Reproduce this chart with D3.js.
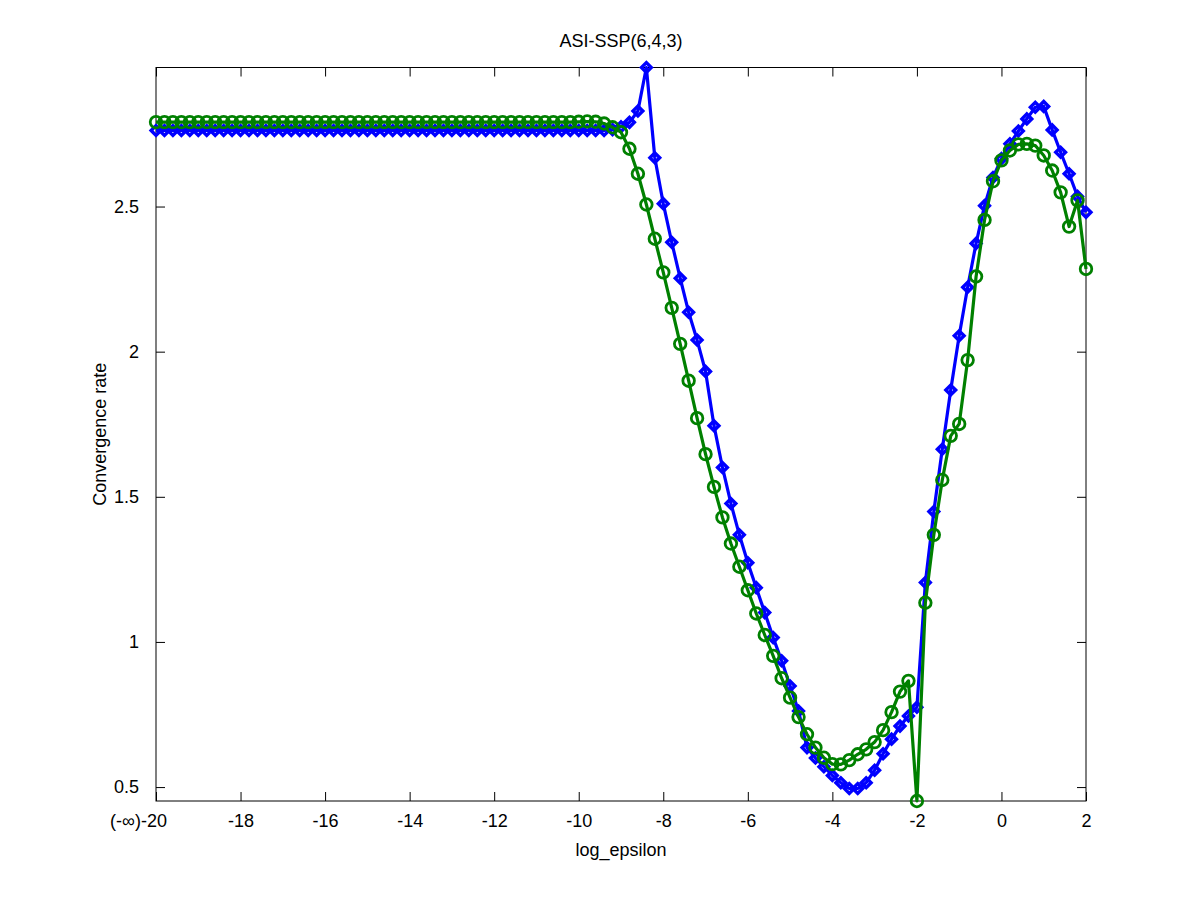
<!DOCTYPE html>
<html>
<head>
<meta charset="utf-8">
<script src="https://cdn.jsdelivr.net/npm/d3@7"></script>
<style>
  body { margin: 0; background: #fff; }
  svg text { font-family: "Liberation Sans", Arial, Helvetica, sans-serif; }
</style>
</head>
<body>
<svg id="chart" width="1200" height="900"></svg>
<script>
// log_epsilon samples (-20 stands for -inf)
const logEps = [
  -20, -19.8, -19.6, -19.4, -19.2, -19, -18.8, -18.6, -18.4, -18.2,
  -18, -17.8, -17.6, -17.4, -17.2, -17, -16.8, -16.6, -16.4, -16.2,
  -16, -15.8, -15.6, -15.4, -15.2, -15, -14.8, -14.6, -14.4, -14.2,
  -14, -13.8, -13.6, -13.4, -13.2, -13, -12.8, -12.6, -12.4, -12.2,
  -12, -11.8, -11.6, -11.4, -11.2, -11, -10.8, -10.6, -10.4, -10.2,
  -10, -9.8, -9.6, -9.4, -9.2, -9, -8.8, -8.6, -8.4, -8.2,
  -8, -7.8, -7.6, -7.4, -7.2, -7, -6.8, -6.6, -6.4, -6.2,
  -6, -5.8, -5.6, -5.4, -5.2, -5, -4.8, -4.6, -4.4, -4.2,
  -4, -3.8, -3.6, -3.4, -3.2, -3, -2.8, -2.6, -2.4, -2.2,
  -2, -1.8, -1.6, -1.4, -1.2, -1, -0.8, -0.6, -0.4, -0.2,
  0, 0.2, 0.4, 0.6, 0.8, 1, 1.2, 1.4, 1.6, 1.8,
  2
]

// blue diamonds
const rateBlue = [
  2.762, 2.762, 2.762, 2.762, 2.762, 2.762, 2.762, 2.762, 2.762, 2.762,
  2.762, 2.762, 2.762, 2.762, 2.762, 2.762, 2.762, 2.762, 2.762, 2.762,
  2.762, 2.762, 2.762, 2.762, 2.762, 2.762, 2.762, 2.762, 2.762, 2.762,
  2.762, 2.762, 2.762, 2.762, 2.762, 2.762, 2.762, 2.762, 2.762, 2.762,
  2.762, 2.762, 2.762, 2.762, 2.762, 2.762, 2.762, 2.762, 2.762, 2.762,
  2.762, 2.762, 2.762, 2.762, 2.765, 2.775, 2.790, 2.829, 2.979, 2.668,
  2.510, 2.377, 2.253, 2.136, 2.040, 1.932, 1.745, 1.601, 1.477, 1.369,
  1.273, 1.187, 1.101, 1.015, 0.935, 0.848, 0.762, 0.636, 0.600, 0.570,
  0.540, 0.515, 0.495, 0.495, 0.515, 0.558, 0.615, 0.665, 0.710, 0.745,
  0.775, 1.205, 1.449, 1.664, 1.868, 2.055, 2.222, 2.373, 2.503, 2.600,
  2.665, 2.716, 2.760, 2.802, 2.842, 2.845, 2.764, 2.687, 2.613, 2.535,
  2.480
]

// green circles
const rateGreen = [
  2.791, 2.791, 2.791, 2.791, 2.791, 2.791, 2.791, 2.791, 2.791, 2.791,
  2.791, 2.791, 2.791, 2.791, 2.791, 2.791, 2.791, 2.791, 2.791, 2.791,
  2.791, 2.791, 2.791, 2.791, 2.791, 2.791, 2.791, 2.791, 2.791, 2.791,
  2.791, 2.791, 2.791, 2.791, 2.791, 2.791, 2.791, 2.791, 2.791, 2.791,
  2.791, 2.791, 2.791, 2.791, 2.791, 2.791, 2.791, 2.791, 2.791, 2.791,
  2.792, 2.793, 2.792, 2.786, 2.773, 2.756, 2.699, 2.613, 2.507, 2.389,
  2.273, 2.151, 2.027, 1.900, 1.771, 1.647, 1.534, 1.429, 1.339, 1.259,
  1.178, 1.098, 1.024, 0.952, 0.875, 0.808, 0.741, 0.682, 0.636, 0.601,
  0.579, 0.578, 0.593, 0.613, 0.630, 0.655, 0.696, 0.758, 0.829, 0.866,
  0.452, 1.135, 1.369, 1.558, 1.710, 1.751, 1.971, 2.259, 2.454, 2.587,
  2.659, 2.693, 2.714, 2.716, 2.710, 2.676, 2.624, 2.549, 2.431, 2.521,
  2.285
]

const xTicks = [-20, -18, -16, -14, -12, -10, -8, -6, -4, -2, 0, 2]
const xTickLabels = ['(-\u221e)-20', '-18', '-16', '-14', '-12', '-10', '-8', '-6', '-4', '-2', '0', '2']
const yTicks = [0.5, 1, 1.5, 2, 2.5]
const yTickLabels = ['0.5', '1', '1.5', '2', '2.5']

const chartTitle = 'ASI-SSP(6,4,3)'
const xLabel = 'log_epsilon'
const yLabel = 'Convergence rate'

const margin = { left: 156, right: 114, top: 67.5, bottom: 99 }
const width = 1200, height = 900
const fontSize = 18

const svg = d3.select('#chart')

const xscale = d3.scaleLinear()
  .domain([-20, 2])
  .range([margin.left, width - margin.right])

const yscale = d3.scaleLinear()
  .domain(d3.extent(rateBlue.concat(rateGreen)))
  .range([height - margin.bottom, margin.top])

const addAxes = () => {
  const x0 = margin.left, x1 = width - margin.right
  const y0 = margin.top, y1 = height - margin.bottom

  //bottom, with labels
  svg.append('g')
    .attr('transform', `translate(0, ${y1})`)
    .call(d3.axisBottom(xscale).tickValues(xTicks).tickSize(-9).tickPadding(13)
      .tickFormat((d, i) => xTickLabels[i]))
    .call(g => g.select('.domain').remove())
    .selectAll('text')
    .style('font-size', fontSize + 'px')
    .attr('fill', '#000')
    .attr('dx', (d, i) => i === 0 ? -18 : 0)

  //top
  svg.append('g')
    .attr('transform', `translate(0, ${y0})`)
    .call(d3.axisTop(xscale).tickValues(xTicks).tickSize(-9).tickFormat(''))
    .call(g => g.select('.domain').remove())

  //left, with labels
  svg.append('g')
    .attr('transform', `translate(${x0}, 0)`)
    .call(d3.axisLeft(yscale).tickValues(yTicks).tickSize(-9).tickPadding(17)
      .tickFormat((d, i) => yTickLabels[i]))
    .call(g => g.select('.domain').remove())
    .selectAll('text').style('font-size', fontSize + 'px').attr('fill', '#000')

  //right
  svg.append('g')
    .attr('transform', `translate(${x1}, 0)`)
    .call(d3.axisRight(yscale).tickValues(yTicks).tickSize(-9).tickFormat(''))
    .call(g => g.select('.domain').remove())

  svg.selectAll('.tick line').attr('stroke', '#000')

  svg.append('rect')
    .attr('x', x0)
    .attr('y', y0)
    .attr('width', x1 - x0)
    .attr('height', y1 - y0)
    .attr('fill', 'none')
    .attr('stroke', '#000')
    .attr('stroke-width', 1)
}

const addSeries = (values, color, marker) => {
  const pts = logEps.map((x, i) => [x, values[i]])

  const line = d3.line()
    .x(d => xscale(d[0]))
    .y(d => yscale(d[1]))

  svg.append('path')
    .datum(pts)
    .attr('d', line)
    .attr('fill', 'none')
    .attr('stroke', color)
    .attr('stroke-width', 3.2)
    .attr('stroke-linejoin', 'round')

  const sym = marker === 'diamond'
    ? d3.symbol().type(d3.symbolSquare).size(48)
    : d3.symbol().type(d3.symbolCircle).size(105)

  svg.append('g')
    .selectAll('path')
    .data(pts)
    .join('path')
    .attr('d', sym)
    .attr('transform', d => `translate(${xscale(d[0])}, ${yscale(d[1])})` + (marker === 'diamond' ? ' rotate(45)' : ''))
    .attr('fill', 'none')
    .attr('stroke', color)
    .attr('stroke-width', marker === 'diamond' ? 3.4 : 2.8)
}

const addText = () => {
  svg.append('text')
    .text(chartTitle)
    .attr('x', (margin.left + width - margin.right) / 2)
    .attr('y', 47)
    .attr('text-anchor', 'middle')
    .style('font-size', fontSize + 'px')

  svg.append('text')
    .text(xLabel)
    .attr('x', (margin.left + width - margin.right) / 2)
    .attr('y', 856)
    .attr('text-anchor', 'middle')
    .style('font-size', fontSize + 'px')

  svg.append('text')
    .text(yLabel)
    .attr('transform', `translate(106, ${(margin.top + height - margin.bottom) / 2}) rotate(-90)`)
    .attr('text-anchor', 'middle')
    .style('font-size', fontSize + 'px')
}

addAxes()
addSeries(rateBlue, '#0000ff', 'diamond')
addSeries(rateGreen, '#008000', 'circle')
addText()
</script>
</body>
</html>
